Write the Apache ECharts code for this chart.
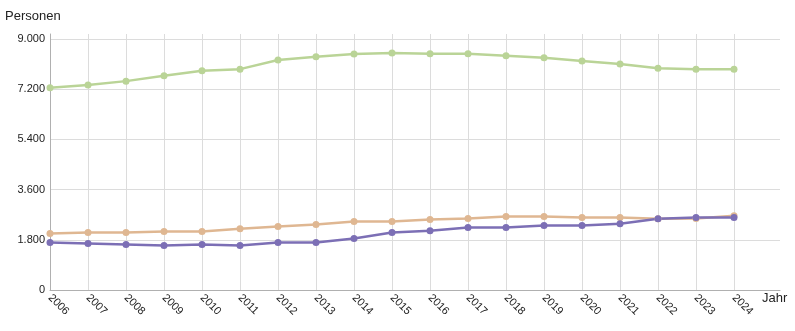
<!DOCTYPE html>
<html>
<head>
<meta charset="utf-8">
<script src="https://cdn.jsdelivr.net/npm/echarts@6/dist/echarts.min.js"></script>
<style>
html,body{margin:0;padding:0;background:#fff;}
#chart{width:795px;height:331px;}
</style>
</head>
<body>
<div id="chart"></div>
<script>
const years = ['2006','2007','2008','2009','2010','2011','2012','2013','2014','2015','2016','2017','2018','2019','2020','2021','2022','2023','2024'];
const greenValues = [7250,7355,7490,7680,7860,7920,8245,8365,8460,8495,8470,8470,8400,8330,8210,8100,7955,7920,7920];
const orangeValues = [2027,2063,2063,2100,2100,2196,2280,2352,2460,2460,2530,2567,2640,2640,2600,2600,2556,2567,2664];
const purpleValues = [1704,1668,1632,1596,1632,1596,1704,1704,1848,2063,2124,2243,2243,2316,2316,2376,2556,2604,2604];
const yTicks = [0,1800,3600,5400,7200,9000];

const fmt = v => String(v).replace(/\B(?=(\d{3})+(?!\d))/g, '.');
const font = 'Liberation Sans, Arial, sans-serif';
const chart = echarts.init(document.getElementById('chart'));
const yMax = 9180;
const gridTop = 34, gridBottom = 41;
chart.setOption({
  animation: false,
  title: {text: 'Personen', left: 0, top: 5, textStyle: {fontSize: 13, fontWeight: 'normal', color: '#222', fontFamily: font}},
  grid: [
    {left: 50, right: 15, top: gridTop, bottom: gridBottom},
    {left: 50, right: 61, top: gridTop, bottom: gridBottom}
  ],
  xAxis: [
    {gridIndex: 0, type: 'value', min: 0, max: 1, axisLabel: {show: false}, axisTick: {show: false}, splitLine: {show: false},
     axisLine: {show: true, lineStyle: {color: '#b0b0b0', width: 1}},
     name: 'Jahr', nameLocation: 'end', nameGap: -18,
     nameTextStyle: {align: 'left', verticalAlign: 'top', fontSize: 13, color: '#222', fontFamily: font, padding: [2,0,0,0]}},
    {gridIndex: 1, type: 'category', data: years, boundaryGap: false,
     axisLine: {show: false}, axisTick: {show: false},
     axisLabel: {rotate: -45, fontSize: 11, color: '#222', margin: 6, fontFamily: font, interval: 0},
     splitLine: {show: true, lineStyle: {color: '#dcdcdc', width: 1}}}
  ],
  yAxis: [
    {gridIndex: 0, type: 'value', min: 0, max: yMax, interval: 1800,
     axisLine: {show: true, lineStyle: {color: '#b0b0b0', width: 1}}, axisTick: {show: false},
     axisLabel: {fontSize: 11, color: '#222', margin: 5, fontFamily: font, showMaxLabel: false,
       formatter: v => yTicks.includes(v) ? fmt(v) : ''},
     splitLine: {show: true, showMaxLine: false, lineStyle: {color: '#dcdcdc', width: 1}}},
    {gridIndex: 1, type: 'value', min: 0, max: yMax, interval: 1800, show: false, splitLine: {show: false}}
  ],
  series: [
    {type: 'line', xAxisIndex: 1, yAxisIndex: 1, data: greenValues, symbol: 'circle', symbolSize: 7,
     lineStyle: {width: 2.5, color: '#bad497'}, itemStyle: {color: '#bad497'}},
    {type: 'line', xAxisIndex: 1, yAxisIndex: 1, data: orangeValues, symbol: 'circle', symbolSize: 7,
     lineStyle: {width: 2.5, color: '#dfb792'}, itemStyle: {color: '#dfb792'}},
    {type: 'line', xAxisIndex: 1, yAxisIndex: 1, data: purpleValues, symbol: 'circle', symbolSize: 7,
     lineStyle: {width: 2.5, color: '#7c6fb5'}, itemStyle: {color: '#7c6fb5'}}
  ]
});
</script>
</body>
</html>
